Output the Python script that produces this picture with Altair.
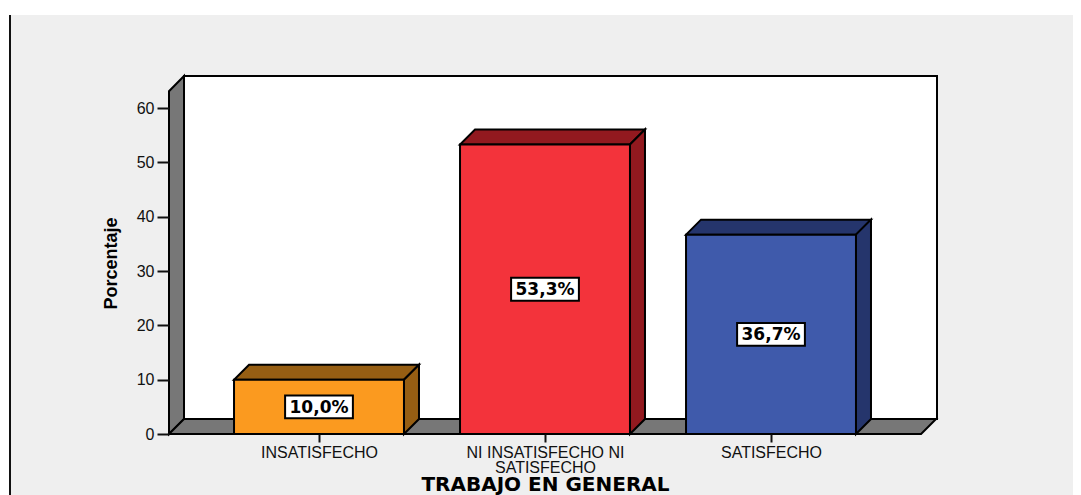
import altair as alt
import pandas as pd

categories = ["INSATISFECHO", "NI INSATISFECHO NI|SATISFECHO", "SATISFECHO"]
values = [10.0, 53.3, 36.7]
labels = ["10,0%", "53,3%", "36,7%"]
front_colors = ["#FB9A1F", "#F3333B", "#3F5AAB"]
side_colors = ["#965E13", "#92191F", "#25356C"]
y_ticks = [0, 10, 20, 30, 40, 50, 60]

# plot frame in data units
X_MIN, X_MAX = -0.6637, 2.7345
Y_MAX = 65.9
DX, DY = 0.0664, 2.76
X_FRONT_R = 2.664
WALL_TOP = 63.1
HALF = 0.376
BOX_W, BOX_H = 0.15, 2.1

STROKE = dict(stroke="black", strokeWidth=2)
LAB = "Liberation Sans"

label_expr = "[" + ",".join(
    "[" + ",".join(f"'{p}'" for p in c.split("|")) + "]" for c in categories
) + "][datum.value]"

x_axis = alt.Axis(
    values=[0, 1, 2], labelExpr=label_expr, grid=False, domain=False, zindex=1,
    tickSize=8, tickWidth=2, tickColor="#111111", labelFont=LAB, labelFontSize=16,
    labelColor="#111111", labelPadding=2, labelLineHeight=15, labelAngle=0,
    labelOverlap=False, labelFlush=False, labelBound=False,
    titleFont="DejaVu Sans", titleFontSize=20, titleFontWeight="bold", titleColor="black",
    titleX=376, titleY=56, titleAnchor="middle", titleAlign="center", titleBaseline="alphabetic",
)
y_axis = alt.Axis(
    values=y_ticks, grid=False, domain=False, zindex=1,
    tickSize=12, tickWidth=2, tickColor="#111111", labelFont=LAB, labelFontSize=16,
    labelColor="#111111", labelPadding=3,
    titleFont=LAB, titleFontSize=18, titleFontWeight="bold",
    titleColor="black", titleX=-49, titleY=187, titleAnchor="middle", titleAlign="center",
)


def X(f):
    return alt.X(f, type="quantitative", scale=alt.Scale(domain=[X_MIN, X_MAX], nice=False, zero=False),
                 axis=x_axis, title="TRABAJO EN GENERAL")


def Y(f):
    return alt.Y(f, type="quantitative", scale=alt.Scale(domain=[0, Y_MAX], nice=False, zero=False),
                 axis=y_axis, title="Porcentaje")


def poly(points, color):
    df = pd.DataFrame(points, columns=["x", "y", "y2"])
    return alt.Chart(df).mark_area(color=color, opacity=1, **STROKE).encode(
        x=X("x"), y=Y("y"), y2=alt.Y2("y2"),
    )


def box(x0, x1, y0, y1, color):
    df = pd.DataFrame([{"x": x0, "x2": x1, "y": y0, "y2": y1}])
    return alt.Chart(df).mark_rect(color=color, **STROKE).encode(
        x=X("x"), x2=alt.X2("x2"), y=Y("y"), y2=alt.Y2("y2"),
    )


panel = alt.Chart(pd.DataFrame([{"a": 0}])).mark_rect(color="#EFEFEF").encode(
    x=alt.value(-158), x2=alt.value(912), y=alt.value(-61), y2=alt.value(419)
)
edge = alt.Chart(pd.DataFrame([{"a": 0}])).mark_rule(color="#111111", strokeWidth=2).encode(
    x=alt.value(-159), y=alt.value(-61), y2=alt.value(419)
)

layers = [panel, edge]
layers.append(box(X_MIN + DX, X_MAX, DY, Y_MAX, "white"))
layers.append(poly([(X_MIN, 0, WALL_TOP), (X_MIN + DX, DY, Y_MAX)], "#777777"))
layers.append(poly([
    (X_MIN, 0, 0), (X_MIN + DX, 0, DY), (X_FRONT_R, 0, DY), (X_FRONT_R + DX, DY, DY)
], "#777777"))

for i, v in enumerate(values):
    l, r = i - HALF, i + HALF
    layers.append(poly([(l, v, v), (l + DX, v, v + DY), (r, v, v + DY), (r + DX, v + DY, v + DY)], side_colors[i]))
    layers.append(poly([(r, 0, v), (r + DX, DY, v + DY)], side_colors[i]))

front = pd.DataFrame({
    "l": [i - HALF for i in range(3)],
    "r": [i + HALF for i in range(3)],
    "b": [0, 0, 0],
    "v": values,
    "c": front_colors,
})
layers.append(alt.Chart(front).mark_rect(**STROKE).encode(
    x=X("l"), x2=alt.X2("r"), y=Y("v"), y2=alt.Y2("b"),
    color=alt.Color("c:N", scale=None, legend=None),
))

for i, v in enumerate(values):
    layers.append(box(i - BOX_W, i + BOX_W, v / 2 - BOX_H, v / 2 + BOX_H, "white"))

text_df = pd.DataFrame({"i": range(3), "m": [v / 2 for v in values], "t": labels})
layers.append(
    alt.Chart(text_df).mark_text(font="DejaVu Sans", fontWeight="bold", fontSize=17, color="black", dy=1).encode(
        x=X("i"), y=Y("m"), text="t:N",
    )
)

chart = alt.layer(*layers).properties(
    width=768, height=358,
    padding={"left": 161, "top": 68, "right": 136, "bottom": 61},
    autosize=alt.AutoSizeParams(type="none"),
).configure_view(stroke=None)

chart.save("out.html", embed_options={"renderer": "svg", "actions": False})
